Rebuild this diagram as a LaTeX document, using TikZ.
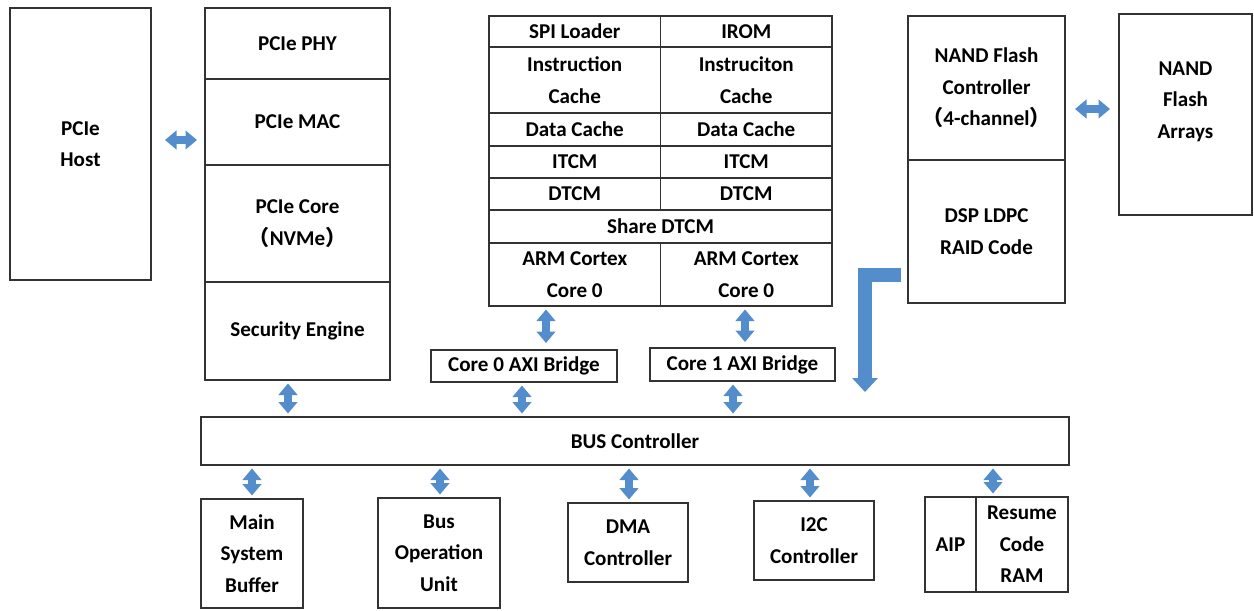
\documentclass[tikz,border=0pt]{standalone}
\usepackage{fontspec}
\setmainfont{Carlito}
\newfontfamily\cjk{Noto Sans CJK SC}
\usepackage{tikz}
\usetikzlibrary{positioning}
\usetikzlibrary{arrows.meta}
\usepackage{xcolor}
\definecolor{arrowblue} {RGB} {84,141,204}
\tikzstyle{blk} = [rectangle,draw=black!80,line width=0.7pt,inner sep=0pt,outer sep=0pt,align=center,font=\fontsize{12}{18}\selectfont\bfseries]
\tikzstyle{cell} = [blk,minimum width=3.43cm]
\tikzstyle{dbl} = [draw=arrowblue,line width=0.17cm,shorten <=0.07cm,shorten >=0.07cm,{Triangle[length=0.23cm,width=0.37cm]}-{Triangle[length=0.23cm,width=0.37cm]}]
\tikzstyle{elbow} = [draw=arrowblue,line width=0.28cm,-{Triangle[length=0.28cm,width=0.5cm]}]

\begin{document}
\begin{tikzpicture}
  \useasboundingbox (0,0) rectangle (25.08,-12.2);

  % host and pcie stack
  \node [blk,minimum width=2.82cm,minimum height=5.44cm,anchor=north west] (host) at (0.2,-0.16) {PCIe\\Host};
  \node [blk,minimum width=3.7cm,minimum height=1.42cm,anchor=north west] (phy) at (4.1,-0.16) {PCIe PHY};
  \node [blk,minimum width=3.7cm,minimum height=1.72cm,below=0 of phy] (mac) {PCIe MAC};
  \node [blk,minimum width=3.7cm,minimum height=2.34cm,below=0 of mac] (pcore) {PCIe Core\\{\cjk （}NVMe{\cjk ）}};
  \node [blk,minimum width=3.7cm,minimum height=1.96cm,below=0 of pcore] (sec) {Security Engine};

  % cpu table
  \node [cell,minimum height=0.62cm,anchor=north west] (spi) at (9.78,-0.32) {SPI Loader};
  \node [cell,minimum height=0.62cm,right=0 of spi] (irom) {IROM};
  \node [cell,minimum height=1.32cm,below=0 of spi] (icl) {Instruction\\Cache};
  \node [cell,minimum height=1.32cm,below=0 of irom] (icr) {Instruciton\\Cache};
  \node [cell,minimum height=0.66cm,below=0 of icl] (dcl) {Data Cache};
  \node [cell,minimum height=0.66cm,below=0 of icr] (dcr) {Data Cache};
  \node [cell,minimum height=0.64cm,below=0 of dcl] (itl) {ITCM};
  \node [cell,minimum height=0.64cm,below=0 of dcr] (itr) {ITCM};
  \node [cell,minimum height=0.64cm,below=0 of itl] (dtl) {DTCM};
  \node [cell,minimum height=0.64cm,below=0 of itr] (dtr) {DTCM};
  \node [blk,minimum width=6.86cm,minimum height=0.66cm,anchor=north west] (share) at (dtl.south west) {Share DTCM};
  \node [cell,minimum height=1.26cm,anchor=north west] (arml) at (share.south west) {ARM Cortex\\Core 0};
  \node [cell,minimum height=1.26cm,right=0 of arml] (armr) {ARM Cortex\\Core 0};

  % nand side
  \node [blk,minimum width=3.14cm,minimum height=2.88cm,anchor=north west] (ctrl) at (18.16,-0.32) {NAND Flash\\Controller\\{\cjk （}4-channel{\cjk ）}};
  \node [blk,minimum width=3.14cm,minimum height=2.86cm,below=0 of ctrl] (dsp) {DSP LDPC\\RAID Code};
  \node [blk,minimum width=2.66cm,minimum height=4.02cm,text depth=0.58cm,anchor=north west] (arrays) at (22.38,-0.28) {NAND\\Flash\\Arrays};

  % bridges and bus
  \node [blk,minimum width=3.72cm,minimum height=0.64cm,anchor=north west] (br0) at (8.62,-7.0) {Core 0 AXI Bridge};
  \node [blk,minimum width=3.7cm,minimum height=0.66cm,anchor=north west] (br1) at (13.0,-6.96) {Core 1 AXI Bridge};
  \node [blk,minimum width=17.36cm,minimum height=0.96cm,anchor=north west] (bus) at (4.02,-8.34) {BUS Controller};

  % bottom row
  \node [blk,minimum width=2.04cm,minimum height=2.18cm,anchor=north west] (msb) at (4.02,-9.98) {Main\\System\\Buffer};
  \node [blk,minimum width=2.44cm,minimum height=2.2cm,anchor=north west] (bou) at (7.56,-9.96) {Bus\\Operation\\Unit};
  \node [blk,minimum width=2.4cm,minimum height=1.58cm,anchor=north west] (dma) at (11.36,-10.06) {DMA\\Controller};
  \node [blk,minimum width=2.4cm,minimum height=1.58cm,anchor=north west] (i2c) at (15.08,-10.02) {I2C\\Controller};
  \node [blk,minimum width=1.02cm,minimum height=1.9cm,anchor=north west] (aip) at (18.5,-9.94) {AIP};
  \node [blk,minimum width=1.84cm,minimum height=1.9cm,right=0 of aip] (resume) {Resume\\Code\\RAM};

  % arrow columns
  \coordinate (xsec) at (5.76,0);
  \coordinate (xarml) at (10.92,0);
  \coordinate (xarmr) at (14.9,0);
  \coordinate (xbr0) at (10.44,0);
  \coordinate (xbr1) at (14.66,0);
  \coordinate (xmsb) at (5.04,0);
  \coordinate (xbou) at (8.8,0);
  \coordinate (xdma) at (12.58,0);
  \coordinate (xi2c) at (16.2,0);
  \coordinate (xres) at (19.86,0);

  \draw [dbl,shorten <=0.28cm,shorten >=0.16cm] ([yshift=0.08cm]host.east) -- ([yshift=0.08cm]host.east -| mac.west);
  \draw [dbl,shorten <=0.2cm,shorten >=0.18cm] ([yshift=0.11cm]ctrl.east |- arrays.west) -- ([yshift=0.11cm]arrays.west);

  \draw [dbl] (sec.south -| xsec) -- (bus.north -| xsec);
  \draw [dbl,shorten >=0.14cm] (arml.south -| xarml) -- (br0.north -| xarml);
  \draw [dbl,shorten >=0.12cm] (armr.south -| xarmr) -- (br1.north -| xarmr);
  \draw [dbl] (br0.south -| xbr0) -- (bus.north -| xbr0);
  \draw [dbl] (br1.south -| xbr1) -- (bus.north -| xbr1);

  \draw [dbl] (bus.south -| xmsb) -- (msb.north -| xmsb);
  \draw [dbl] (bus.south -| xbou) -- (bou.north -| xbou);
  \draw [dbl] (bus.south -| xdma) -- (dma.north -| xdma);
  \draw [dbl] (bus.south -| xi2c) -- (i2c.north -| xi2c);
  \draw [dbl] (bus.south -| xres) -- (resume.north -| xres);

  \draw [elbow] ([xshift=-0.14cm,yshift=-0.87cm]dsp.west) -| ([xshift=-4.08cm,yshift=0.5cm]bus.north east);

\end{tikzpicture}
\end{document}
